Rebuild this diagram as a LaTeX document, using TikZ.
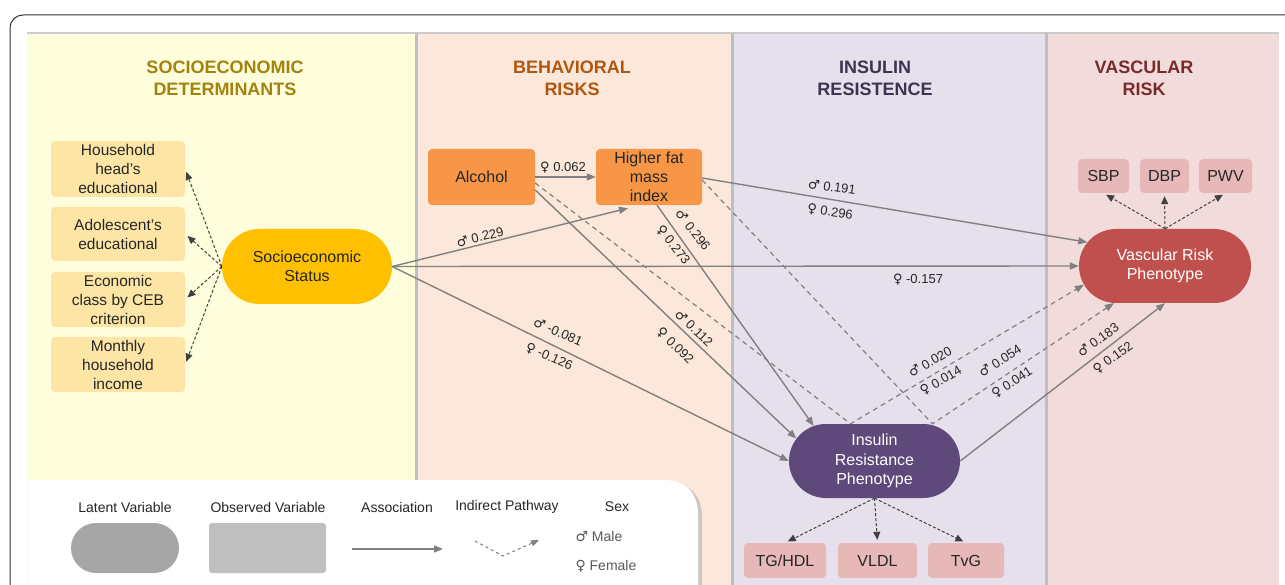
\documentclass[tikz,border=0pt]{standalone}
\usepackage{fontspec}
\setmainfont{Liberation Sans}
\newfontfamily\symfont{DejaVu Sans}
\usetikzlibrary{arrows.meta,shapes.misc,calc}
\newcommand{\msym}{{\symfont\char"2642}}
\newcommand{\fsym}{{\symfont\char"2640}}
\definecolor{yelbg}{HTML}{FEFEDC}
\definecolor{orbg}{HTML}{FCE8DA}
\definecolor{pubg}{HTML}{E5E0EC}
\definecolor{rdbg}{HTML}{F2DCDB}
\definecolor{tsoc}{HTML}{A3820E}
\definecolor{tbeh}{HTML}{B0570F}
\definecolor{tins}{HTML}{3D3452}
\definecolor{tvas}{HTML}{7A2A2A}
\definecolor{obsyel}{HTML}{FDE5A6}
\definecolor{sesfill}{HTML}{FFC000}
\definecolor{orfill}{HTML}{F79646}
\definecolor{vrfill}{HTML}{C0504D}
\definecolor{irfill}{HTML}{5F497A}
\definecolor{pinkfill}{HTML}{E6B9B8}
\definecolor{edgegray}{HTML}{808080}
\definecolor{txt}{HTML}{262626}
\begin{document}
\begin{tikzpicture}[x=1pt,y=-1pt,
  title/.style={font=\bfseries\fontsize{18}{22}\selectfont, align=center},
  obsbox/.style={rectangle, rounded corners=4pt, fill=obsyel, align=center, inner sep=0pt,
     text=txt, font=\fontsize{15.5}{19}\selectfont},
  latent/.style={rounded rectangle, align=center, inner sep=0pt, font=\fontsize{16}{19.5}\selectfont},
  orbox/.style={rectangle, rounded corners=4pt, fill=orfill, align=center, inner sep=0pt,
     text=txt, font=\fontsize{16}{19}\selectfont},
  pinkbox/.style={rectangle, rounded corners=4pt, fill=pinkfill, align=center, inner sep=0pt,
     text=txt, font=\fontsize{16}{19}\selectfont},
  assoc/.style={draw=edgegray, line width=1.4pt, -{Triangle[length=9pt,width=7pt]}},
  indirect/.style={draw=edgegray, line width=1.2pt, dash pattern=on 5pt off 4pt, -{Triangle[length=9pt,width=7pt]}},
  meas/.style={draw=black!75, line width=1pt, dash pattern=on 3pt off 2pt, -{Triangle[length=8pt,width=7pt]}, shorten >=3pt},
  lbl/.style={font=\fontsize{13}{15}\selectfont, text=txt, inner sep=1pt},
  lgt/.style={font=\fontsize{14}{16}\selectfont, text=txt}
]
\useasboundingbox (0,0) rectangle (1285,585);
\fill[white] (0,0) rectangle (1285,585);
\begin{scope}
\clip (0,0) rectangle (1285,585);
% outer frame
\draw[black!80, line width=1pt, rounded corners=13pt] (10,15) rectangle (1320,640);
% panels
\fill[yelbg] (27,33) rectangle (415,600);
\fill[orbg] (415,33) rectangle (731,600);
\fill[pubg] (731,33) rectangle (1045,600);
\fill[rdbg] (1045,33) rectangle (1279,600);
\draw[black!20, line width=1.5pt] (27,33) -- (1279,33);
\draw[black!25, line width=2.5pt] (416.5,33) -- (416.5,600);
\draw[black!25, line width=2.5pt] (732.5,33) -- (732.5,600);
\draw[black!25, line width=2.5pt] (1046.5,33) -- (1046.5,600);
% legend box
\fill[black!30, opacity=0.6] (31,600) -- (31,482) -- (666,482) .. controls (688,482) and (702,494) .. (702,517) -- (702,600) -- cycle;
\fill[white] (28,600) -- (28,480) -- (663,480) .. controls (685,480) and (698,492) .. (698,515) -- (698,600) -- cycle;
\end{scope}

% titles
\node[title, text=tsoc] (tsocn) at (225,78) {SOCIOECONOMIC\\DETERMINANTS};
\node[title, text=tbeh] (tbehn) at (572,78) {BEHAVIORAL\\RISKS};
\node[title, text=tins] (tinsn) at (875,78) {INSULIN\\RESISTENCE};
\node[title, text=tvas] (tvasn) at (1144,78) {VASCULAR\\RISK};

% socioeconomic nodes
\node[obsbox, minimum width=134pt, minimum height=56pt] (hh) at (118,169) {Household\\head's\\educational};
\node[obsbox, minimum width=134pt, minimum height=54pt] (ad) at (118,234) {Adolescent's\\educational};
\node[obsbox, minimum width=134pt, minimum height=55pt] (ec) at (118,299.5) {Economic\\class by CEB\\criterion};
\node[obsbox, minimum width=134pt, minimum height=55pt] (mi) at (118,364.5) {Monthly\\household\\income};
\node[latent, fill=sesfill, text=txt, minimum width=170pt, minimum height=75pt] (ses) at (307,266.5) {Socioeconomic\\Status};

% behavioral
\node[orbox, minimum width=107pt, minimum height=56pt] (alc) at (481.5,177) {Alcohol};
\node[orbox, minimum width=106pt, minimum height=56pt] (hfm) at (649,177) {Higher fat\\mass\\index};

% vascular
\node[latent, fill=vrfill, text=white, minimum width=172pt, minimum height=74pt] (vrp) at (1165,266) {Vascular Risk\\Phenotype};
\node[pinkbox, minimum width=51pt, minimum height=34pt] (sbp) at (1103.5,176) {SBP};
\node[pinkbox, minimum width=49pt, minimum height=34pt] (dbp) at (1164.5,176) {DBP};
\node[pinkbox, minimum width=53pt, minimum height=34pt] (pwv) at (1225.5,176) {PWV};

% insulin
\node[latent, fill=irfill, text=white, minimum width=171pt, minimum height=74pt] (irp) at (874.5,461) {Insulin\\Resistance\\Phenotype};
\node[pinkbox, minimum width=82pt, minimum height=35pt] (tg) at (785,560.5) {TG/HDL};
\node[pinkbox, minimum width=79pt, minimum height=35pt] (vldl) at (877.5,560.5) {VLDL};
\node[pinkbox, minimum width=76pt, minimum height=35pt] (tvg) at (966,560.5) {TvG};

% measurement arrows
\draw[meas] (ses.west) -- (hh.east);
\draw[meas] (ses.west) -- (ad.east);
\draw[meas] (ses.west) -- (ec.east);
\draw[meas] (ses.west) -- (mi.east);
\draw[meas] (vrp.north) -- (sbp.south);
\draw[meas] (vrp.north) -- (dbp.south);
\draw[meas] (vrp.north) -- (pwv.south);
\draw[meas] (irp.south) -- (tg.north);
\draw[meas] (irp.south) -- (vldl.north);
\draw[meas] (irp.south) -- (tvg.north);

% indirect pathways
\draw[indirect] ([yshift=-6pt]alc.east) -- ([xshift=-24pt]irp.north) -- (vrp.193);
\draw[indirect] ([yshift=-3pt]hfm.east) -- ([xshift=58pt]irp.north) -- (vrp.216);

% associations
\draw[assoc] (alc.east) -- (hfm.west);
\draw[assoc] (ses.east) -- ([xshift=-21pt,yshift=-3pt]hfm.south);
\draw[assoc] (ses.east) -- (vrp.west);
\draw[assoc] (ses.east) -- (irp.west);
\draw[assoc] ([yshift=-13pt]alc.east) -- (irp.164);
\draw[assoc] ([xshift=8pt]hfm.south) -- (irp.150);
\draw[assoc] ([yshift=-1pt]hfm.east) -- (vrp.163);
\draw[assoc] (irp.east) -- (vrp.south);

% coefficient labels
\node[lbl] (l062) at (563,168) {\fsym\ 0.062};
\node[lbl, rotate=14] (l229) at (480,237) {\msym\ 0.229};
\node[lbl, rotate=-52] (l296m) at (693,230) {\msym\ 0.296};
\node[lbl, rotate=-52] (l273f) at (673,245) {\fsym\ 0.273};
\node[lbl, rotate=-44] (l112m) at (694,328) {\msym\ 0.112};
\node[lbl, rotate=-44] (l092f) at (675,346) {\fsym\ 0.092};
\node[lbl, rotate=-24] (l081m) at (558,332) {\msym\ -0.081};
\node[lbl, rotate=-24] (l126f) at (549,357) {\fsym\ -0.126};
\node[lbl, rotate=-8] (l191m) at (832,187) {\msym\ 0.191};
\node[lbl, rotate=-8] (l296f) at (830,212) {\fsym\ 0.296};
\node[lbl] (l157f) at (918,280) {\fsym\ -0.157};
\node[lbl, rotate=30] (l020m) at (930,362) {\msym\ 0.020};
\node[lbl, rotate=30] (l014f) at (941,381) {\fsym\ 0.014};
\node[lbl, rotate=33] (l054m) at (1000,361) {\msym\ 0.054};
\node[lbl, rotate=33] (l041f) at (1012,383) {\fsym\ 0.041};
\node[lbl, rotate=36] (l183m) at (1098,340) {\msym\ 0.183};
\node[lbl, rotate=36] (l152f) at (1113,358) {\fsym\ 0.152};

% legend
\node[lgt] (lgh1) at (125,507) {Latent Variable};
\node[lgt] (lgh2) at (268,507) {Observed Variable};
\node[lgt] (lgh3) at (397,507) {Association};
\node[lgt] (lgh4) at (507,507) {Indirect Pathway};
\node[lgt] (lgh5) at (617,507) {Sex};
\node[rounded rectangle, fill=black!35, minimum width=108pt, minimum height=50pt, inner sep=0pt] (lglat) at (125,548) {};
\node[rectangle, rounded corners=3pt, fill=black!25, minimum width=117pt, minimum height=50pt, inner sep=0pt] (lgobs) at (267.5,548) {};
\coordinate (la1) at (352,549);
\coordinate (la2) at (443,549);
\draw[assoc] (la1) -- (la2);
\coordinate (lv1) at (475,541);
\coordinate (lv2) at (503,556);
\coordinate (lv3) at (539,540);
\draw[indirect, line width=1pt, dash pattern=on 3pt off 3pt, -{Triangle[length=8pt,width=6pt]}] (lv1) -- (lv2) -- (lv3);
\node[lgt, anchor=west, text=black!65] (lgm) at (572,537) {\msym\ Male};
\node[lgt, anchor=west, text=black!65] (lgf) at (572,566) {\fsym\ Female};
\end{tikzpicture}
\end{document}
